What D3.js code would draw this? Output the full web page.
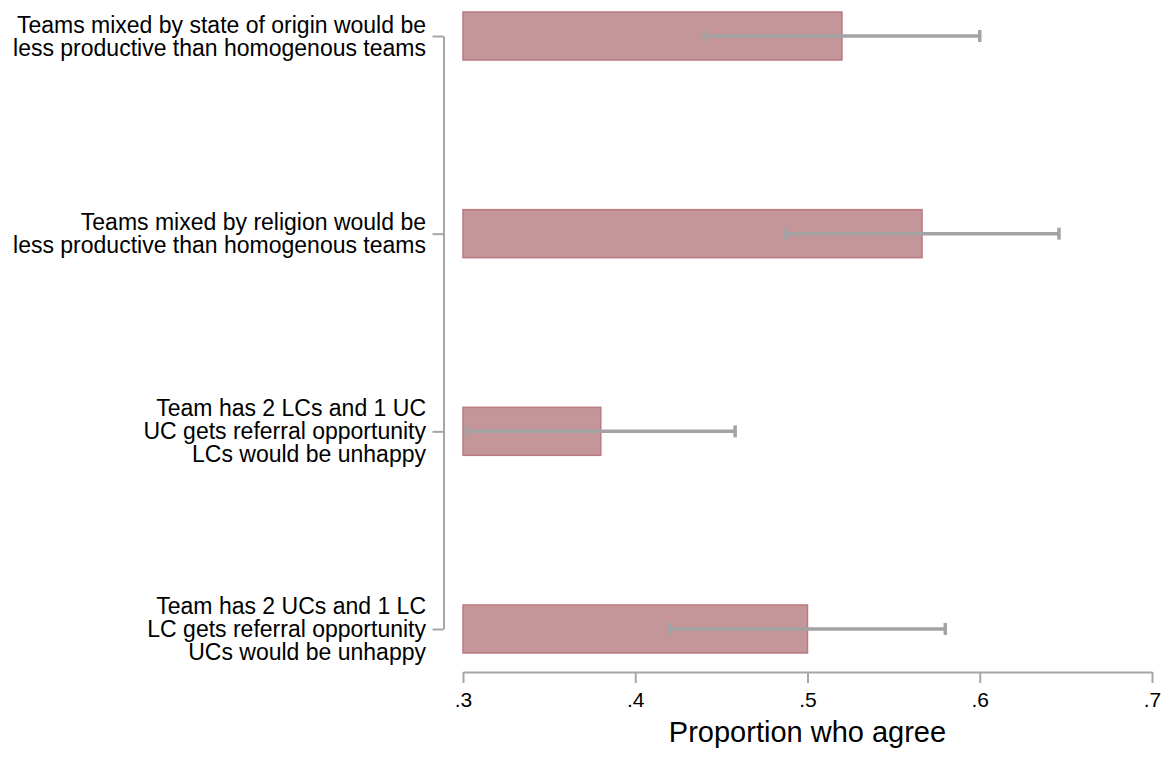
<!DOCTYPE html>
<html>
<head>
<meta charset="utf-8">
<script src="https://cdn.jsdelivr.net/npm/d3@7"></script>
<style>
  body { margin: 0; background: #fff; }
  svg { display: block; font-family: "Liberation Sans", Arial, Helvetica, sans-serif; }
</style>
</head>
<body>
<svg id="chart" width="1167" height="762"></svg>
<script>
const categories = [
  ["Teams mixed by state of origin would be", "less productive than homogenous teams"],
  ["Teams mixed by religion would be", "less productive than homogenous teams"],
  ["Team has 2 LCs and 1 UC", "UC gets referral opportunity", "LCs would be unhappy"],
  ["Team has 2 UCs and 1 LC", "LC gets referral opportunity", "UCs would be unhappy"]
];
const values = [0.52, 0.5665, 0.38, 0.50];
const ciLow  = [0.44, 0.487, 0.302, 0.42];
const ciHigh = [0.60, 0.646, 0.458, 0.58];
const xTicks = [0.3, 0.4, 0.5, 0.6, 0.7];
const xTickLabels = [".3", ".4", ".5", ".6", ".7"];
const xTitle = "Proportion who agree";

const svg = d3.select("#chart");
const x = d3.scaleLinear().domain([0.3, 0.7]).range([463, 1152]);
const idx = categories.map((d, i) => i);
const y = d3.scalePoint().domain(idx).range([36, 629]);
const barH = 48;
const axisGray = "#a6a6a6";

// bars
svg.append("g").selectAll("rect").data(idx).join("rect")
  .attr("x", x(0.3))
  .attr("y", i => y(i) - barH / 2)
  .attr("width", i => x(values[i]) - x(0.3))
  .attr("height", barH)
  .attr("fill", "#c49599")
  .attr("stroke", "#b97a80")
  .attr("stroke-width", 1.5);

// error bars
const eb = svg.append("g").attr("stroke", "#a3a3a3").attr("stroke-width", 3.5);
eb.selectAll("line.h").data(idx).join("line").attr("class", "h")
  .attr("x1", i => x(ciLow[i])).attr("x2", i => x(ciHigh[i]))
  .attr("y1", i => y(i)).attr("y2", i => y(i));
eb.selectAll("line.l").data(idx).join("line").attr("class", "l")
  .attr("x1", i => x(ciLow[i])).attr("x2", i => x(ciLow[i]))
  .attr("y1", i => y(i) - 6).attr("y2", i => y(i) + 6);
eb.selectAll("line.r").data(idx).join("line").attr("class", "r")
  .attr("x1", i => x(ciHigh[i])).attr("x2", i => x(ciHigh[i]))
  .attr("y1", i => y(i) - 6).attr("y2", i => y(i) + 6);

// x axis
const xAxis = d3.axisBottom(x).tickValues(xTicks)
  .tickFormat((d, i) => xTickLabels[i]).tickSize(11).tickSizeOuter(0).tickPadding(9);
const gx = svg.append("g").attr("transform", "translate(0,672)").call(xAxis);
gx.select(".domain").attr("stroke", axisGray).attr("stroke-width", 2);
gx.selectAll(".tick line").attr("stroke", axisGray).attr("stroke-width", 2);
gx.selectAll(".tick text").attr("font-size", 21).attr("fill", "#000")
  .attr("font-family", "Liberation Sans, Arial, sans-serif");

// x title
svg.append("text").attr("x", (x(0.3) + x(0.7)) / 2).attr("y", 742)
  .attr("text-anchor", "middle").attr("font-size", 29).attr("fill", "#000")
  .text(xTitle);

// y axis
const yAxis = d3.axisLeft(y).tickSize(11).tickSizeOuter(0).tickFormat(() => "");
const gy = svg.append("g").attr("transform", "translate(443.5,0)").call(yAxis);
gy.select(".domain").attr("stroke", axisGray).attr("stroke-width", 2);
gy.selectAll(".tick line").attr("stroke", axisGray).attr("stroke-width", 2);

// y labels
const lineH = 23;
const lab = svg.append("g");
idx.forEach(i => {
  const lines = categories[i];
  const n = lines.length;
  const t = lab.append("text")
    .attr("text-anchor", "end").attr("font-size", 23).attr("fill", "#000");
  lines.forEach((s, k) => {
    t.append("tspan").attr("x", 426)
      .attr("y", y(i) + (k - (n - 1) / 2) * lineH + 8)
      .text(s);
  });
});
</script>
</body>
</html>
